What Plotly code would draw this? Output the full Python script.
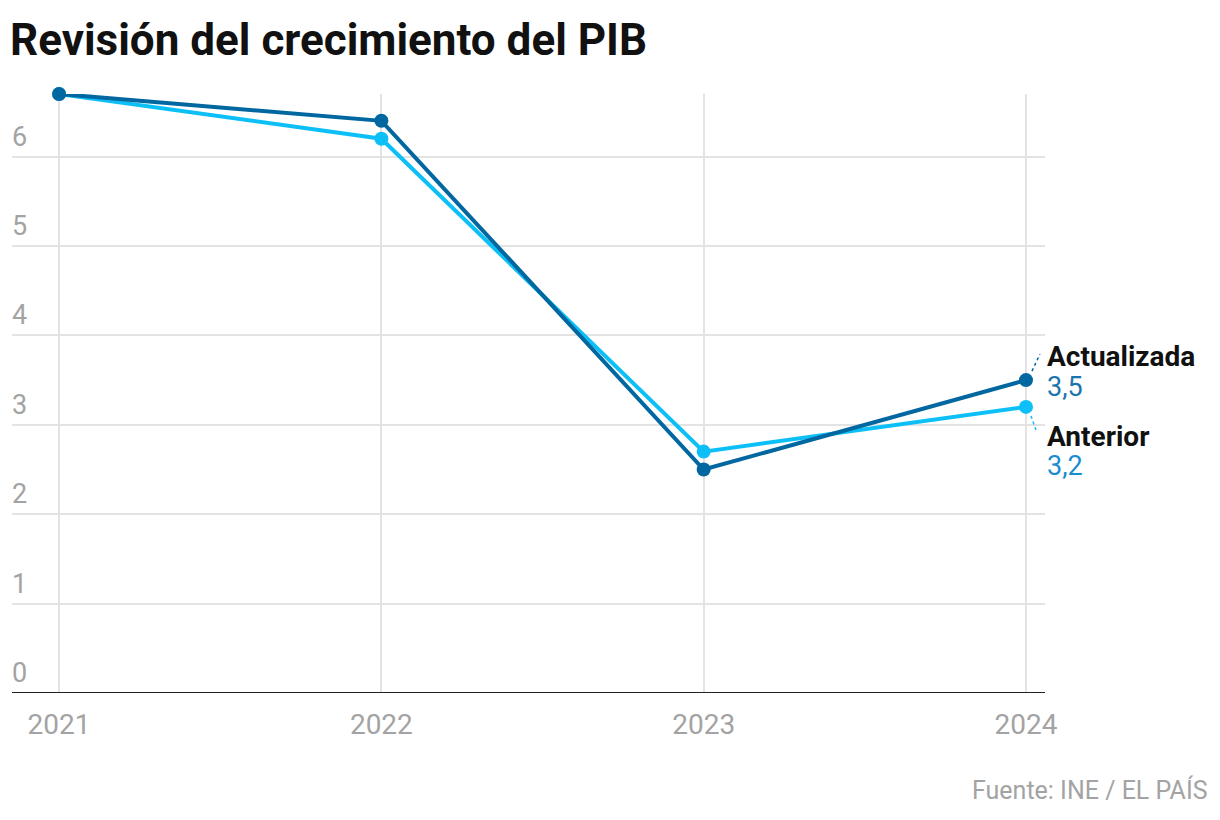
import plotly.graph_objects as go

years = [2021, 2022, 2023, 2024]
anterior = [6.7, 6.2, 2.7, 3.2]
actualizada = [6.7, 6.4, 2.5, 3.5]
y_ticks = [0, 1, 2, 3, 4, 5, 6]
x_tick_labels = ["2021", "2022", "2023", "2024"]

DARK = "#0067a0"
LIGHT = "#0cc0f7"
GRAY = "#a3a3a3"
FONT = "Roboto"

fig = go.Figure()
fig.add_trace(go.Scatter(x=years, y=anterior, mode="lines+markers", name="Anterior",
                         line=dict(color=LIGHT, width=4), marker=dict(size=14, color=LIGHT),
                         cliponaxis=False, hoverinfo="skip"))
fig.add_trace(go.Scatter(x=years, y=actualizada, mode="lines+markers", name="Actualizada",
                         line=dict(color=DARK, width=4), marker=dict(size=14, color=DARK),
                         cliponaxis=False, hoverinfo="skip"))

ann = []
for v in y_ticks:
    ann.append(dict(x=0, xref="paper", y=v, yref="y", text=str(v), showarrow=False,
                    xanchor="left", yanchor="bottom", yshift=2, xshift=-2,
                    font=dict(family=FONT, size=27, color=GRAY)))

last_x = years[-1]
ann += [
    dict(x=last_x, y=actualizada[-1], text="<b>Actualizada</b>", showarrow=False,
         xanchor="left", yanchor="middle", xshift=19, yshift=24,
         font=dict(family=FONT, size=28, color="#111111")),
    dict(x=last_x, y=actualizada[-1], text=str(actualizada[-1]).replace(".", ","), showarrow=False,
         xanchor="left", yanchor="middle", xshift=19, yshift=-7,
         font=dict(family=FONT, size=27, color="#1a75ad")),
    dict(x=last_x, y=anterior[-1], text="<b>Anterior</b>", showarrow=False,
         xanchor="left", yanchor="middle", xshift=19, yshift=-30,
         font=dict(family=FONT, size=28, color="#111111")),
    dict(x=last_x, y=anterior[-1], text=str(anterior[-1]).replace(".", ","), showarrow=False,
         xanchor="left", yanchor="middle", xshift=19, yshift=-59,
         font=dict(family=FONT, size=27, color="#1a8dd0")),
    dict(x=1, xref="paper", y=0, yref="paper", text="Fuente: INE / EL PAÍS", showarrow=False,
         xanchor="right", yanchor="middle", xshift=165, yshift=-97,
         font=dict(family=FONT, size=25, color=GRAY)),
]

shapes = [
    dict(type="line", xref="x", yref="y", xsizemode="pixel", ysizemode="pixel",
         xanchor=last_x, yanchor=actualizada[-1], x0=6, y0=9, x1=14, y1=26,
         line=dict(color=DARK, width=1.5, dash="dot")),
    dict(type="line", xref="x", yref="y", xsizemode="pixel", ysizemode="pixel",
         xanchor=last_x, yanchor=anterior[-1], x0=5, y0=-9, x1=11, y1=-26,
         line=dict(color=LIGHT, width=1.5, dash="dot")),
]

fig.update_layout(
    width=1212, height=812,
    margin=dict(l=4, r=175, t=86, b=127),
    paper_bgcolor="white", plot_bgcolor="white",
    showlegend=False,
    title=dict(text="<b>Revisión del crecimiento del PIB</b>", x=2 / 1212, xanchor="left",
               y=1 - 32 / 812, yanchor="middle",
               font=dict(family=FONT, size=44, color="#111111")),
    xaxis=dict(range=[2020.854, 2024.059], tickvals=years, ticktext=x_tick_labels,
               showgrid=True, gridcolor="#e3e3e3", gridwidth=2, zeroline=False,
               showline=False, ticks="outside", ticklen=6, tickcolor="rgba(0,0,0,0)",
               tickfont=dict(family=FONT, size=28, color=GRAY),
               fixedrange=True),
    yaxis=dict(range=[0, 6.7], tickvals=y_ticks, showticklabels=False,
               showgrid=True, gridcolor="#e3e3e3", gridwidth=1.5, zeroline=False,
               showline=False, ticks="", fixedrange=True),
    annotations=ann,
    shapes=shapes + [dict(type="line", xref="paper", yref="y", x0=0, x1=1, y0=0, y1=0,
                          line=dict(color="#222222", width=2))],
)

fig.write_html("out.html")
